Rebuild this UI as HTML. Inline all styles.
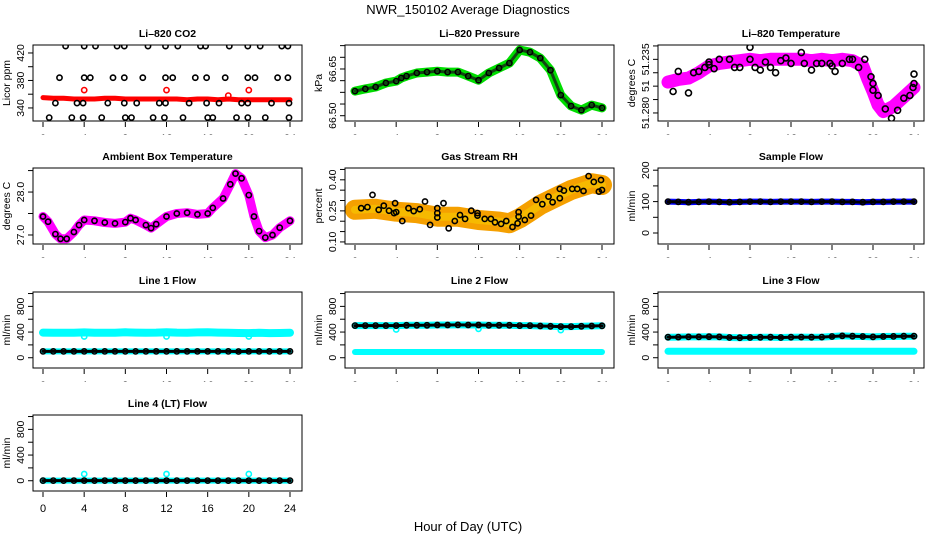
<!DOCTYPE html>
<html><head><meta charset="utf-8"><style>
html,body{margin:0;padding:0;background:#fff;}
svg{display:block;font-family:"Liberation Sans",sans-serif;}
</style></head><body>
<svg id="chart" width="936" height="540" viewBox="0 0 936 540" xmlns="http://www.w3.org/2000/svg">
<text x="468" y="14" text-anchor="middle" font-size="13">NWR_150102  Average Diagnostics</text>
<text x="468" y="531" text-anchor="middle" font-size="13">Hour of Day (UTC)</text>
</svg>
<script>
// ---- data ----
const xTicks = [0,4,8,12,16,20,24];
const co2RedHours = [0,1,2,3,4,5,6,7,8,9,10,11,12,13,14,15,16,17,18,19,20,21,22,23,24];
const co2RedValues = [355,354,354,353,353,353,354,354,353,353,353,353,353,353,352,353,353,352,353,352,352,352,352,352,352];
const co2RedOutHours = [4,12,18,20];
const co2RedOutValues = [366,366,358,366];
const co2BlackHours = [2.2,4.0,5.1,7.2,7.9,10.2,11.9,13.1,15.3,15.8,18.1,19.9,21.1,23.2,23.8,
 1.6,4.0,4.6,6.8,7.9,9.7,11.9,12.6,14.8,15.9,17.7,19.9,20.6,22.8,23.8,
 1.2,3.3,3.9,6.3,7.9,9.1,11.3,11.9,14.2,15.9,17.1,19.3,19.9,22.2,23.9,
 0.6,2.8,3.9,5.7,8.0,8.6,10.7,11.8,13.6,16.0,16.5,18.8,19.9,21.6,23.9];
const co2BlackValues = [430,430,430,430,430,430,430,430,430,430,430,430,430,430,430,
 384,384,384,384,384,384,384,384,384,384,384,384,384,384,384,
 347,347,347,347,347,347,347,347,347,347,347,347,347,347,347,
 326,326,326,326,326,326,326,326,326,326,326,326,326,326,326];
const presHours = [0,1,2,3,4,4.5,5,6,7,8,9,10,11,12,13,14,15,16,17,18,19,20,21,22,23,24];
const presValues = [66.579,66.586,66.592,66.605,66.611,66.621,66.627,66.637,66.640,66.643,66.640,66.640,66.627,66.614,66.637,66.653,66.669,66.711,66.704,66.685,66.646,66.566,66.531,66.518,66.534,66.525];
const tempHours = [0,1,2,3,4,5,6,7,8,9,10,11,12,13,14,15,16,17,18,19,19.5,20,20.5,21,22,23,24];
const tempValues = [51.303,51.305,51.306,51.310,51.315,51.317,51.318,51.319,51.320,51.319,51.320,51.320,51.320,51.320,51.319,51.320,51.319,51.320,51.319,51.315,51.305,51.296,51.286,51.281,51.285,51.292,51.299];
const tempBlackHours = [0.5,1,2,2.5,3,3.6,4,4,4.5,5,6,6.5,7,8,8,8.5,9,9.5,10,10.5,11,11.5,12,13,13.3,14,14.5,15,15.8,16,16.3,17,17.7,18,18.6,19.2,19.8,20,20,20.5,21.2,21.8,22.4,23,23.6,23.9,24,24];
const tempBlackValues = [51.296,51.311,51.295,51.310,51.311,51.314,51.318,51.316,51.313,51.320,51.320,51.314,51.314,51.329,51.320,51.314,51.312,51.318,51.314,51.310,51.319,51.321,51.317,51.325,51.317,51.312,51.317,51.317,51.317,51.315,51.311,51.317,51.320,51.320,51.314,51.320,51.307,51.302,51.297,51.293,51.283,51.276,51.282,51.291,51.293,51.299,51.309,51.302];
const ambHours = [0,0.5,1.2,1.7,2.3,3,3.5,4,5,6,7,8,8.5,9,10,10.5,11,12,13,14,15,16,16.5,17.5,18.2,18.7,19.3,20,20.5,21,21.6,22.3,23,24];
const ambValues = [27.43,27.31,27.02,26.91,26.91,27.07,27.23,27.35,27.33,27.29,27.27,27.30,27.39,27.35,27.23,27.16,27.25,27.43,27.50,27.52,27.48,27.50,27.63,27.85,28.18,28.43,28.32,27.93,27.43,27.09,26.94,27.00,27.17,27.33];
const rhHours = [0,2,4,6,8,10,12,14,15,16,17,18,19,20,21,22,23,24];
const rhValues = [0.255,0.26,0.246,0.239,0.222,0.222,0.206,0.198,0.19,0.214,0.246,0.279,0.303,0.327,0.351,0.367,0.383,0.375];
const rhBlackHours = [0.6,1.2,1.7,2.3,2.8,3.3,3.8,3.9,4.0,4.6,5.2,5.7,6.3,6.8,7.3,8.0,8.0,8.0,8.6,9.1,9.7,10.2,10.7,11.3,11.9,11.9,12.6,13.2,13.6,14.2,14.7,15.3,15.8,15.9,15.9,16.5,17.1,17.6,18.2,18.8,19.2,19.9,19.9,20.3,21.1,21.6,22.2,22.7,23.2,23.7,23.9,24.0];
const rhBlackValues = [0.263,0.268,0.327,0.255,0.275,0.251,0.239,0.287,0.244,0.201,0.263,0.249,0.258,0.295,0.182,0.263,0.239,0.218,0.287,0.166,0.201,0.230,0.211,0.251,0.227,0.239,0.211,0.211,0.195,0.187,0.201,0.172,0.190,0.222,0.244,0.206,0.227,0.303,0.282,0.319,0.292,0.311,0.356,0.348,0.356,0.356,0.346,0.418,0.390,0.343,0.399,0.351];
const flowHours = [0,1,2,3,4,5,6,7,8,9,10,11,12,13,14,15,16,17,18,19,20,21,22,23,24];
const sampleFlowValues = [100,99,98,99,100,99,98,99,100,100,99,100,100,100,99,100,100,99,99,98,99,99,100,100,100];
const line1Cyan = [392,388,390,388,395,390,388,390,396,392,390,392,398,392,390,394,396,392,390,386,384,388,384,386,390];
const line1Black = [98,98,98,98,99,98,98,98,99,98,98,98,99,98,98,98,99,98,98,97,98,98,98,98,99];
const line1DipHours = [4,12,20];
const line1DipValues = [330,330,330];
const line2Black = [500,500,500,500,500,505,505,505,510,510,512,510,510,505,505,505,500,500,495,490,485,485,490,495,498];
const line2Cyan = [90,90,90,90,90,90,90,90,90,90,90,90,90,90,90,90,90,90,90,90,90,90,90,90,90];
const line3Black = [320,322,325,325,328,325,315,312,315,318,320,315,320,322,320,322,330,340,335,330,325,330,332,335,335];
const line3Cyan = [100,100,100,100,100,100,100,100,100,100,100,100,100,100,100,100,100,100,100,100,100,100,100,100,100];
const line4Black = [2,2,2,2,2,2,2,2,2,2,2,2,2,2,2,2,2,2,2,2,2,2,2,2,2];
const line4CyanHours = [0,4,12,20];
const line4CyanValues = [0,105,105,105];

// ---- layout ----
const NS = 'http://www.w3.org/2000/svg';
const svg = document.getElementById('chart');
const COLS = [{l:33,r:302,x0:43,x24:290},{l:345,r:614,x0:355,x24:602},{l:658,r:924,x0:668,x24:914}];
const ROWS = [45,168,292,415];
const BH = 76;
function mk(tag, attrs, parent){const e=document.createElementNS(NS,tag);for(const k in attrs)e.setAttribute(k,attrs[k]);(parent||svg).appendChild(e);return e;}

function panel(o){
  const c = COLS[o.col], top = ROWS[o.row], bot = top+BH;
  const g = mk('g',{});
  
  
  const xs = h => c.x0 + (c.x24-c.x0)*h/24;
  const ys = v => bot - (v-o.ylim[0])/(o.ylim[1]-o.ylim[0])*BH;
  const t = mk('text',{x:(c.l+c.r)/2,y:top-8,'text-anchor':'middle','font-size':'10.5','font-weight':'bold'},g);
  t.textContent = o.title;
  
  
  const cid = 'clip'+o.col+o.row;
  const cp = mk('clipPath',{id:cid},g); mk('rect',{x:c.l,y:top,width:c.r-c.l,height:BH},cp);
  const pg = mk('g',{'clip-path':'url(#'+cid+')'},g);
  for(const L of o.layers){
    if(L.type==='band'){
      const pts = L.x.map((h,i)=>xs(h).toFixed(1)+','+ys(L.y[i]).toFixed(1)).join(' ');
      const pl = mk('polyline',{points:pts,fill:'none',stroke:L.color,'stroke-width':L.w,'stroke-linejoin':'round','stroke-linecap':'round',opacity:L.op||1},pg);
      
      
    } else {
      L.x.forEach((h,i)=>{
        const ci = mk('circle',{cx:xs(h).toFixed(1),cy:ys(L.y[i]).toFixed(1),r:L.r||2.6,fill:'none',stroke:L.color,'stroke-width':L.sw||1.6},pg);
        
        
      });
    }
  }
  const box = mk('rect',{x:c.l,y:top,width:c.r-c.l,height:BH,fill:'none',stroke:'#000','stroke-width':1},g);
  
  
  const xa = mk('g',{},g);
  
  
  const xcid = 'xclip'+o.col+o.row;
  const xcp = mk('clipPath',{id:xcid},xa); mk('rect',{x:c.l-20,y:bot,width:c.r-c.l+40,height:o.row===3?30:14},xcp);
  xTicks.forEach(h=>{
    mk('line',{x1:xs(h),x2:xs(h),y1:bot+1,y2:bot+6,stroke:'#000'},xa);
    const tl = mk('text',{x:xs(h),y:bot+21,'text-anchor':'middle','font-size':'11','clip-path':'url(#'+xcid+')'},xa);
    tl.textContent = h;
    
    
  });
  const ya = mk('g',{},g);
  
  
  o.ticks.forEach((v,i)=>{
    const y = ys(v);
    mk('line',{x1:c.l-5,x2:c.l,y1:y,y2:y,stroke:'#000'},ya);
    if(o.tickLabels[i]){
      const tx = c.l-9;
      const tl = mk('text',{x:tx,y:y,'text-anchor':'middle','font-size':'10.5',transform:'rotate(-90 '+tx+' '+y+')'},ya);
      tl.textContent = o.tickLabels[i];
      
      
    }
  });
  const lx = c.l-23, ly = top+BH/2;
  const yl = mk('text',{x:lx,y:ly,'text-anchor':'middle','font-size':'10.5',transform:'rotate(-90 '+lx+' '+ly+')'},g);
  yl.textContent = o.ylab;
  
  
}

const flowTicks = [0,200,400,600,800,1000];
const flowLabels = ['0','','400','','800',''];
const flowLim = [-160,1024];

panel({name:'co2-panel',col:0,row:0,title:'Li–820 CO2',ylab:'Licor ppm',ylim:[321,431.6],
  ticks:[340,360,380,400,420],tickLabels:['340','','380','','420'],
  layers:[{type:'band',x:co2RedHours,y:co2RedValues,color:'#f00',w:5},
    {type:'pts',x:co2RedOutHours,y:co2RedOutValues,color:'#f00'},
    {type:'pts',x:co2BlackHours,y:co2BlackValues,color:'#000'}]});
panel({name:'pressure-panel',col:1,row:0,title:'Li–820 Pressure',ylab:'kPa',ylim:[66.483,66.727],
  ticks:[66.5,66.5375,66.575,66.6125,66.65,66.6875,66.725],tickLabels:['66.50','','','','66.65','',''],
  layers:[{type:'band',x:presHours,y:presValues,color:'#0d0',w:9},
    {type:'band',x:presHours,y:presValues,color:'#141',w:3},
    {type:'pts',x:presHours,y:presValues,color:'#000'}]});
panel({name:'li820-temperature-panel',col:2,row:0,title:'Li–820 Temperature',ylab:'degrees C',ylim:[51.274,51.3307],
  ticks:[51.28,51.29,51.30,51.31,51.32,51.33],tickLabels:['51.280','','51','','51.235',''],
  layers:[{type:'band',x:tempHours,y:tempValues,color:'#f0f',w:13},
    {type:'pts',x:tempBlackHours,y:tempBlackValues,color:'#000',r:3}]});
panel({name:'ambient-temperature-panel',col:0,row:1,title:'Ambient Box Temperature',ylab:'degrees C',ylim:[26.79,28.56],
  ticks:[27.0,27.5,28.0,28.5],tickLabels:['27.0','','28.0',''],
  layers:[{type:'band',x:ambHours,y:ambValues,color:'#f0f',w:9},
    {type:'pts',x:ambHours,y:ambValues,color:'#000'}]});
panel({name:'rh-panel',col:1,row:1,title:'Gas Stream RH',ylab:'percent',ylim:[0.09,0.457],
  ticks:[0.10,0.15,0.20,0.25,0.30,0.35,0.40,0.45],tickLabels:['0.10','','','0.25','','','0.40',''],
  layers:[{type:'band',x:rhHours,y:rhValues,color:'#f5a000',w:20},
    {type:'band',x:rhHours,y:rhValues,color:'#f7c400',w:8,op:0.7},
    {type:'pts',x:rhBlackHours,y:rhBlackValues,color:'#000'}]});
panel({name:'sample-flow-panel',col:2,row:1,title:'Sample Flow',ylab:'ml/min',ylim:[-35,207],
  ticks:[0,50,100,150,200],tickLabels:['0','','100','','200'],
  layers:[{type:'band',x:flowHours,y:sampleFlowValues,color:'#00f',w:6},
    {type:'band',x:flowHours,y:sampleFlowValues,color:'#000',w:3},
    {type:'pts',x:flowHours,y:sampleFlowValues,color:'#000'}]});
panel({name:'line1-flow-panel',col:0,row:2,title:'Line 1 Flow',ylab:'ml/min',ylim:flowLim,ticks:flowTicks,tickLabels:flowLabels,
  layers:[{type:'band',x:flowHours,y:line1Cyan,color:'#0ff',w:8},
    {type:'pts',x:line1DipHours,y:line1DipValues,color:'#0ff'},
    {type:'band',x:flowHours,y:line1Black,color:'#0ff',w:6},
    {type:'band',x:flowHours,y:line1Black,color:'#000',w:3},
    {type:'pts',x:flowHours,y:line1Black,color:'#000'}]});
panel({name:'line2-flow-panel',col:1,row:2,title:'Line 2 Flow',ylab:'ml/min',ylim:flowLim,ticks:flowTicks,tickLabels:flowLabels,
  layers:[{type:'band',x:flowHours,y:line2Cyan,color:'#0ff',w:6},
    {type:'band',x:flowHours,y:line2Black,color:'#0ff',w:7},
    {type:'pts',x:line1DipHours,y:[440,450,430],color:'#0ff'},
    {type:'band',x:flowHours,y:line2Black,color:'#000',w:3},
    {type:'pts',x:flowHours,y:line2Black,color:'#000'}]});
panel({name:'line3-flow-panel',col:2,row:2,title:'Line 3 Flow',ylab:'ml/min',ylim:flowLim,ticks:flowTicks,tickLabels:flowLabels,
  layers:[{type:'band',x:flowHours,y:line3Cyan,color:'#0ff',w:7},
    {type:'band',x:flowHours,y:line3Black,color:'#0ff',w:7},
    {type:'band',x:flowHours,y:line3Black,color:'#000',w:3},
    {type:'pts',x:flowHours,y:line3Black,color:'#000'}]});
panel({name:'line4-flow-panel',col:0,row:3,title:'Line 4 (LT) Flow',ylab:'ml/min',ylim:flowLim,ticks:flowTicks,tickLabels:flowLabels,
  layers:[{type:'band',x:flowHours,y:line4Black,color:'#0ff',w:6},
    {type:'pts',x:line4CyanHours,y:line4CyanValues,color:'#0ff'},
    {type:'band',x:flowHours,y:line4Black,color:'#000',w:3},
    {type:'pts',x:flowHours,y:line4Black,color:'#000'}]});
</script>
</body></html>
